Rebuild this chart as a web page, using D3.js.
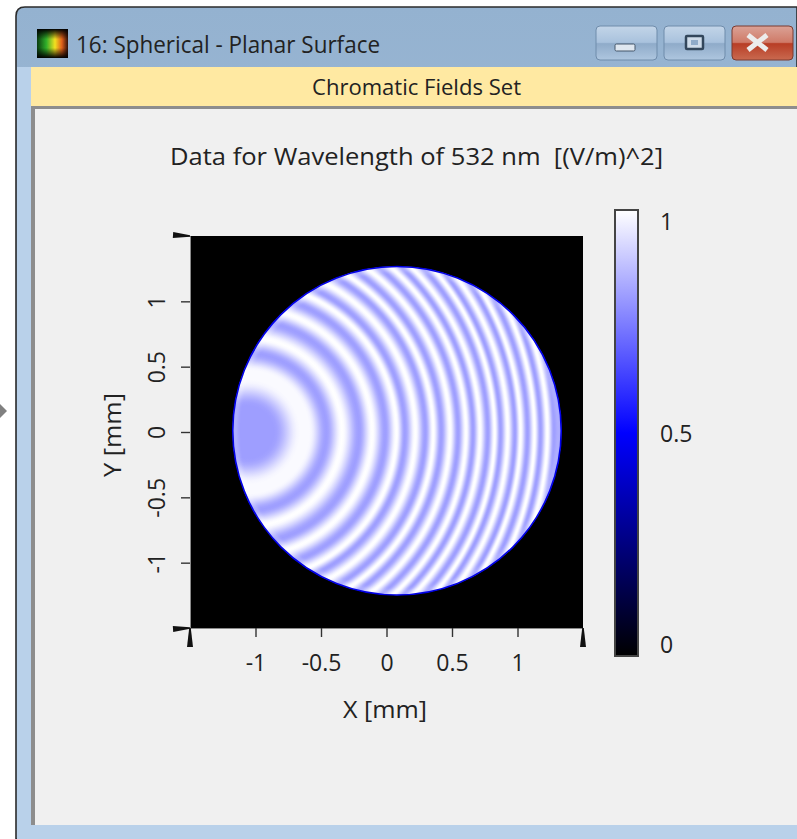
<!DOCTYPE html>
<html><head><meta charset="utf-8">
<script src="https://cdn.jsdelivr.net/npm/d3@7/dist/d3.min.js"></script>
<style>html,body{margin:0;padding:0;background:#fff;overflow:hidden}svg{display:block}text{font-family:"Open Sans",sans-serif;fill:#222}</style>
</head><body><svg id="c" width="797" height="839"></svg>
<script>
const windowTitle = "16: Spherical - Planar Surface";
const bandTitle = "Chromatic Fields Set";
const chartTitle = "Data for Wavelength of 532 nm  [(V/m)^2]";
const xLabel = "X [mm]";
const yLabel = "Y [mm]";
const axisTicks = [-1, -0.5, 0, 0.5, 1];
const colorTicks = [0, 0.5, 1];
const colorDomain = [0, 0.5, 1];
const colorRange = ["#000000", "#0000ff", "#ffffff"];
const apertureCenter = [0.08, 0.01];
const apertureRadius = 1.256;
const ringCenter = [-1.06, 0.0];
const ringRadii = [0, 0.20, 0.40, 0.47, 0.60, 0.72, 0.85, 0.95, 1.05, 1.136, 1.20, 1.28, 1.356, 1.417, 1.477, 1.545, 1.606, 1.667, 1.72, 1.773, 1.833, 1.886, 1.93, 1.985, 2.04, 2.083, 2.136, 2.19, 2.235, 2.288, 2.34];
const ringValues = [0.81, 0.81, 0.99, 0.99, 0.81, 1, 0.81, 1, 0.81, 1, 0.81, 1, 0.81, 1, 0.81, 1, 0.81, 1, 0.81, 1, 0.81, 1, 0.81, 1, 0.81, 1, 0.81, 1, 0.81, 1, 0.81];

const svg = d3.select("#c");
const defs = svg.append("defs");
const addLinear = (id, stops, horizontal) => {
  const g = defs.append("linearGradient").attr("id", id).attr("x1",0).attr("x2",horizontal?1:0).attr("y1",0).attr("y2",horizontal?0:1);
  stops.forEach(([o,c,a]) => g.append("stop").attr("offset", o).attr("stop-color", c).attr("stop-opacity", a===undefined?1:a));
};
addLinear("tb", [[0,"#94b2d0"],[0.5,"#a3bdd9"],[1,"#b9d1ea"]]);
addLinear("btn", [[0,"#c3d5e8"],[0.48,"#a9c2dd"],[0.52,"#8fabc9"],[1,"#aec6df"]]);
addLinear("cls", [[0,"#dba296"],[0.48,"#cf7a68"],[0.52,"#b83d25"],[1,"#c96a50"]]);
addLinear("iconH", [[0,"#0a3a10"],[0.3,"#2fae2a"],[0.58,"#f2e020"],[0.8,"#e0601a"],[1,"#301008"]], true);
addLinear("iconV", [[0,"#000",1],[0.35,"#000",0],[0.65,"#000",0],[1,"#000",1]]);
defs.append("filter").attr("id","soft").append("feGaussianBlur").attr("stdDeviation",0.5);
defs.append("filter").attr("id","soft2").append("feGaussianBlur").attr("stdDeviation",1.6);

// window chrome
svg.append("path").attr("d","M16 839V16Q16 7 25 7H797V839Z").attr("fill","url(#tb)").attr("stroke","#2b2b2b").attr("stroke-width",1.6);
svg.append("rect").attr("x",17).attr("y",67).attr("width",780).attr("height",772).attr("fill","#b9d1ea");
svg.append("rect").attr("x",31).attr("y",67).attr("width",766).attr("height",40).attr("fill","#ffe9a2");
svg.append("rect").attr("x",31).attr("y",106).attr("width",766).attr("height",719).attr("fill","#8d8d8d");
svg.append("rect").attr("x",35).attr("y",109).attr("width",762).attr("height",716).attr("fill","#f0f0f0");
svg.append("path").attr("d","M0 404L7 411L0 418Z").attr("fill","#808080");
svg.append("rect").attr("x",37).attr("y",29).attr("width",31).attr("height",29).attr("fill","url(#iconH)");
svg.append("rect").attr("x",37).attr("y",29).attr("width",31).attr("height",29).attr("fill","url(#iconV)");
const btns = [[596,"url(#btn)"],[664,"url(#btn)"],[732,"url(#cls)"]];
svg.selectAll("rect.b").data(btns).join("rect").attr("class","b").attr("x",d=>d[0]).attr("y",26).attr("width",61).attr("height",34).attr("rx",4).attr("fill",d=>d[1]).attr("stroke",(d,i)=>i==2?"#7a3a30":"#6f8cab");
svg.append("rect").attr("x",615).attr("y",44).attr("width",20).attr("height",7).attr("rx",1.5).attr("fill","#dfe7f0").attr("stroke","#44566a");
svg.append("rect").attr("x",686).attr("y",36).attr("width",17).attr("height",13).attr("rx",1).attr("fill","#cfdcea").attr("stroke","#33475c").attr("stroke-width",2.5);
svg.append("rect").attr("x",691).attr("y",40).attr("width",7).attr("height",5).attr("fill","#8fabc9");
svg.append("path").attr("d","M748 35L767 50M767 35L748 50").attr("stroke","#ececec").attr("stroke-width",5);
svg.append("text").attr("x",76).attr("y",53).attr("font-size",23).attr("textLength",304).attr("lengthAdjust","spacingAndGlyphs").text(windowTitle);
svg.append("text").attr("x",416.5).attr("y",95).attr("font-size",22).attr("text-anchor","middle").attr("textLength",209).attr("lengthAdjust","spacingAndGlyphs").text(bandTitle);

// plot
const x = d3.scaleLinear().domain([-1.5,1.5]).range([190,583]);
const y = d3.scaleLinear().domain([-1.5,1.5]).range([628,236]);
const color = d3.scaleLinear().domain(colorDomain).range(colorRange);
const kx = x(1)-x(0);
const rMax = d3.max(ringRadii);
const rg = defs.append("radialGradient").attr("id","rings").attr("gradientUnits","userSpaceOnUse")
  .attr("cx",x(ringCenter[0])).attr("cy",y(ringCenter[1])).attr("fx",x(ringCenter[0])).attr("fy",y(ringCenter[1]))
  .attr("r",kx*rMax);
// smooth transition between each read-off dark band and bright ring
d3.pairs(ringRadii.map((r,i)=>[r,ringValues[i]])).forEach(([a,b])=>{
  d3.range(0,8).forEach(k=>{
    const t = k/8;
    const s = t*t*(3-2*t);
    rg.append("stop").attr("offset",(a[0]+(b[0]-a[0])*t)/rMax).attr("stop-color",color(a[1]+(b[1]-a[1])*s));
  });
});
rg.append("stop").attr("offset",1).attr("stop-color",color(ringValues[ringValues.length-1]));
const plot = svg.append("g");
plot.append("rect").attr("x",x(-1.5)).attr("y",y(1.5)).attr("width",x(1.5)-x(-1.5)).attr("height",y(-1.5)-y(1.5)).attr("fill","#000");
const ax = x(apertureCenter[0]), ay = y(apertureCenter[1]), ar = kx*apertureRadius;
defs.append("clipPath").attr("id","disk").append("circle").attr("cx",ax).attr("cy",ay).attr("r",ar);
plot.append("circle").attr("cx",ax).attr("cy",ay).attr("r",ar).attr("fill","url(#rings)");
const rim = plot.append("g").attr("clip-path","url(#disk)");
rim.append("circle").attr("cx",ax).attr("cy",ay).attr("r",ar-3).attr("fill","none").attr("stroke","#fff").attr("stroke-opacity",0.2).attr("stroke-width",4).attr("filter","url(#soft2)");
plot.append("circle").attr("cx",ax).attr("cy",ay).attr("r",ar-0.3).attr("fill","none").attr("stroke","#0000e8").attr("stroke-width",1.6).attr("filter","url(#soft)");

const fmt = d => String(d);
const gx = svg.append("g").attr("transform",`translate(0,${y(-1.5)})`).call(d3.axisBottom(x).tickValues(axisTicks).tickFormat(fmt).tickSize(9).tickPadding(18));
const gy = svg.append("g").attr("transform",`translate(${x(-1.5)},0)`).call(d3.axisLeft(y).tickValues(axisTicks).tickFormat(fmt).tickSize(9).tickPadding(12));
[gx,gy].forEach(g=>{g.selectAll("path.domain").attr("stroke","#8a8a8a");g.selectAll(".tick line").attr("stroke","#333").attr("stroke-width",1.4);g.selectAll("text").attr("font-size",23).attr("font-family",'"Open Sans",sans-serif').attr("fill","#222");});
gy.selectAll(".tick text").attr("text-anchor","middle").attr("dy",0).attr("x",0).attr("transform","translate(-33,0) rotate(-90) translate(0,8)");
const wedge = (x0,y0,x1,y1,w,w1) => {
  const dx=x1-x0, dy=y1-y0, l=Math.hypot(dx,dy), nx=-dy/l, ny=dx/l;
  return `M${x0+nx*w} ${y0+ny*w}L${x1+nx*w1} ${y1+ny*w1}L${x1-nx*w1} ${y1-ny*w1}L${x0-nx*w} ${y0-ny*w}Z`;
};
const corners = svg.append("g").attr("fill","#111");
corners.append("path").attr("d",wedge(173,y(1.5)-1,x(-1.5),y(1.5),3,0.8));
corners.append("path").attr("d",wedge(173,y(-1.5)+1,x(-1.5),y(-1.5),3,0.8));
corners.append("path").attr("d",wedge(x(-1.5),647,x(-1.5),y(-1.5),3,0.8));
corners.append("path").attr("d",wedge(x(1.5),647,x(1.5),y(-1.5),3,0.8));

svg.append("text").attr("x",416.5).attr("y",165).attr("font-size",24).attr("text-anchor","middle").attr("textLength",493).attr("lengthAdjust","spacingAndGlyphs").style("white-space","pre").text(chartTitle);
svg.append("text").attr("x",385).attr("y",718).attr("font-size",24).attr("text-anchor","middle").attr("textLength",84).attr("lengthAdjust","spacingAndGlyphs").text(xLabel);
svg.append("text").attr("transform","translate(121,435) rotate(-90)").attr("font-size",24).attr("text-anchor","middle").attr("textLength",84).attr("lengthAdjust","spacingAndGlyphs").text(yLabel);

// colour bar
const cbar = d3.scaleLinear().domain([0,1]).range([656,210]);
const cg = defs.append("linearGradient").attr("id","cb").attr("gradientUnits","userSpaceOnUse").attr("x1",0).attr("x2",0).attr("y1",cbar(0)).attr("y2",cbar(1));
colorDomain.forEach(v=>cg.append("stop").attr("offset",v).attr("stop-color",color(v)));
svg.append("rect").attr("x",615).attr("y",210).attr("width",23).attr("height",446).attr("fill","url(#cb)").attr("stroke","#444").attr("stroke-width",2);
const labY = d3.scaleLinear().domain([0,1]).range([645,222]);
svg.selectAll("text.cl").data(colorTicks).join("text").attr("class","cl").attr("x",660).attr("y",d=>labY(d)+8).attr("font-size",23).text(fmt);
</script></body></html>
